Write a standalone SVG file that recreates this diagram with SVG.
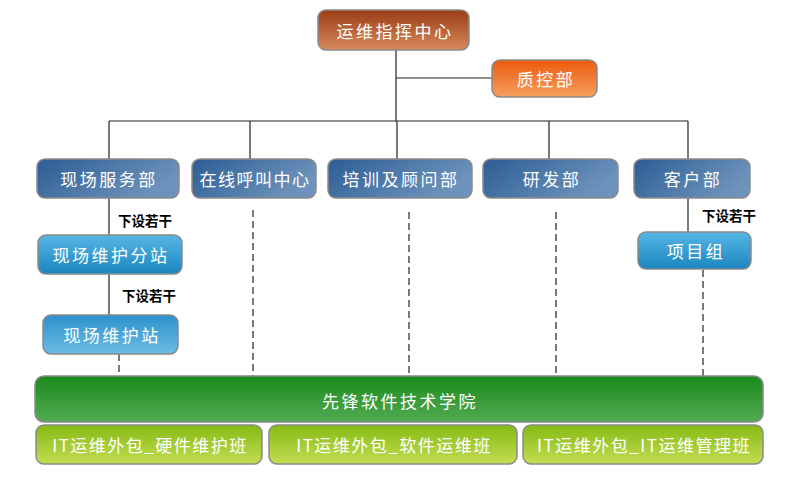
<svg xmlns="http://www.w3.org/2000/svg" width="800" height="500" viewBox="0 0 800 500">
<style>
.box{stroke:#8a8a8a;stroke-width:1.5}
.t{font-family:"Noto Sans CJK SC","Noto Sans",sans-serif;fill:#fff;font-size:17px;text-anchor:middle;dominant-baseline:central;letter-spacing:2.5px}
.s{letter-spacing:1.5px}
.n{font-family:"Noto Sans CJK SC",sans-serif;fill:#000;font-size:13.5px;font-weight:bold}
.ln{stroke:#222;stroke-width:1.2;fill:none}
.dl{stroke:#222;stroke-width:1.2;fill:none;stroke-dasharray:7,4}
</style>
<defs>
<linearGradient id="gTop" x1="0" y1="0" x2="0" y2="1"><stop offset="0" stop-color="#9a3c14"/><stop offset="1" stop-color="#d98a5c"/></linearGradient>
<linearGradient id="gOr" x1="0" y1="0" x2="0" y2="1"><stop offset="0" stop-color="#ec5a0c"/><stop offset="1" stop-color="#f6a060"/></linearGradient>
<linearGradient id="gBl" x1="0" y1="0" x2="1" y2="0.4"><stop offset="0" stop-color="#2c5d94"/><stop offset="1" stop-color="#6d92bb"/></linearGradient>
<linearGradient id="gCy" x1="0" y1="0" x2="0" y2="1"><stop offset="0" stop-color="#56b6e4"/><stop offset="1" stop-color="#1a86c0"/></linearGradient>
<linearGradient id="gCy2" x1="0" y1="0" x2="0" y2="1"><stop offset="0" stop-color="#2c92cc"/><stop offset="1" stop-color="#6cbce4"/></linearGradient>
<linearGradient id="gGr" x1="0" y1="0" x2="0" y2="1"><stop offset="0" stop-color="#1b8a1b"/><stop offset="1" stop-color="#52aa52"/></linearGradient>
<linearGradient id="gYg" x1="0" y1="0" x2="0" y2="1"><stop offset="0" stop-color="#86ba14"/><stop offset="1" stop-color="#c2dd52"/></linearGradient>
</defs>
<rect width="800" height="500" fill="#fff"/>
<g id="connectors">
<path class="ln" d="M396 50V121M396 78H492M109 121H688M109 121V159M250 121V159M397 121V159M549 121V159M688 121V159"/>
<path class="ln" d="M109 198V235M109 274V315M688 198V232"/>
<path class="dl" d="M119 354V376M253 210V376M409 212V376M556 212V376M703 270V376"/>
<text class="n" x="118" y="226">下设若干</text>
<text class="n" x="122" y="301">下设若干</text>
<text class="n" x="702" y="221">下设若干</text>
</g>
<g id="n-top"><rect class="box" x="318" y="10" width="151" height="40" rx="8" fill="url(#gTop)"/><text class="t" x="395" y="30">运维指挥中心</text></g>
<g id="n-qc"><rect class="box" x="492" y="60" width="105" height="37" rx="8" fill="url(#gOr)"/><text class="t" x="546" y="78.5">质控部</text></g>
<g id="n-xc"><rect class="box" x="37" y="159" width="142" height="39" rx="8" fill="url(#gBl)"/><text class="t" x="109" y="178.5">现场服务部</text></g>
<g id="n-zx"><rect class="box" x="192" y="159" width="124" height="39" rx="8" fill="url(#gBl)"/><text class="t s" x="255" y="178.5">在线呼叫中心</text></g>
<g id="n-px"><rect class="box" x="328" y="159" width="144" height="39" rx="8" fill="url(#gBl)"/><text class="t" x="401" y="178.5">培训及顾问部</text></g>
<g id="n-yf"><rect class="box" x="483" y="159" width="135" height="39" rx="8" fill="url(#gBl)"/><text class="t" x="552" y="178.5">研发部</text></g>
<g id="n-kh"><rect class="box" x="634" y="159" width="116" height="39" rx="8" fill="url(#gBl)"/><text class="t" x="693" y="178.5">客户部</text></g>
<g id="n-fz"><rect class="box" x="38" y="235" width="144" height="39" rx="8" fill="url(#gCy)"/><text class="t" x="111" y="254.5">现场维护分站</text></g>
<g id="n-wz"><rect class="box" x="43" y="315" width="135" height="39" rx="8" fill="url(#gCy2)"/><text class="t" x="112" y="334.5">现场维护站</text></g>
<g id="n-xm"><rect class="box" x="638" y="232" width="113" height="37" rx="8" fill="url(#gCy)"/><text class="t" x="696" y="250.5">项目组</text></g>
<g id="n-xf"><rect class="box" x="35" y="376" width="728" height="46" rx="9" fill="url(#gGr)"/><text class="t" x="400" y="400">先锋软件技术学院</text></g>
<g id="n-b1"><rect class="box" x="36" y="425" width="226" height="39" rx="8" fill="url(#gYg)"/><text class="t s" x="150" y="444.5">IT运维外包_硬件维护班</text></g>
<g id="n-b2"><rect class="box" x="269" y="425" width="248" height="39" rx="8" fill="url(#gYg)"/><text class="t s" x="394" y="444.5">IT运维外包_软件运维班</text></g>
<g id="n-b3"><rect class="box" x="523" y="425" width="240" height="39" rx="8" fill="url(#gYg)"/><text class="t s" x="644" y="444.5">IT运维外包_IT运维管理班</text></g>
</svg>
